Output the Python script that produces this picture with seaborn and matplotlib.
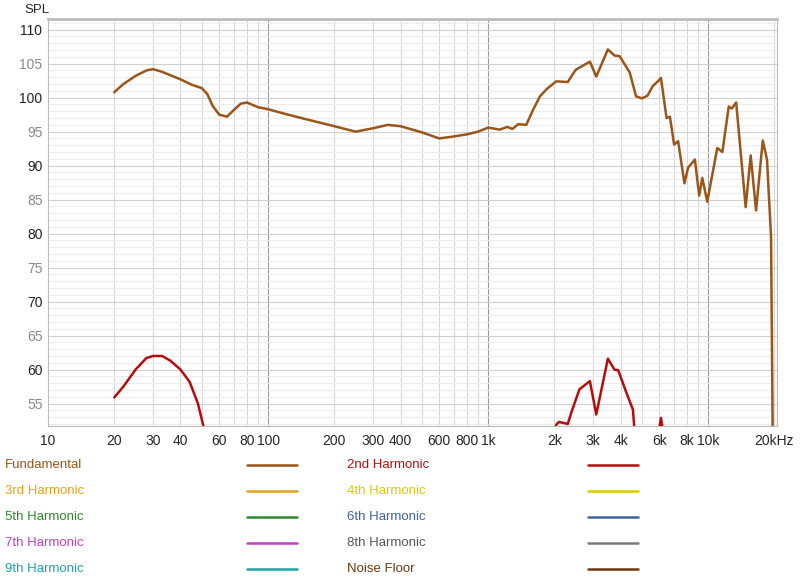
import numpy as np
import pandas as pd
import matplotlib
matplotlib.use("Agg")
import matplotlib.pyplot as plt
from matplotlib.lines import Line2D
from matplotlib.ticker import FixedLocator, NullFormatter
import seaborn as sns

# --- data ---
fund_freq = [20, 22, 25, 28, 30, 33, 36, 40, 45, 50, 53, 56, 60, 65, 70, 75, 80, 90, 100,
             120, 150, 200, 250, 300, 350, 400, 500, 600, 700, 800, 900, 1000, 1130, 1220,
             1290, 1370, 1490, 1600, 1720, 1850, 2040, 2300, 2500, 2900, 3100, 3500, 3750,
             3960, 4400, 4700, 5000, 5300, 5600, 5900, 6100, 6470, 6700, 7000, 7300, 7800,
             8100, 8700, 9100, 9400, 9900, 11000, 11600, 12400, 12800, 13400, 14800, 15600,
             16500, 17700, 18500, 19300, 19700]
fund_spl = [100.8, 102.0, 103.2, 104.0, 104.2, 103.8, 103.3, 102.7, 101.9, 101.4, 100.5, 98.8,
            97.5, 97.2, 98.2, 99.1, 99.3, 98.6, 98.3, 97.6, 96.8, 95.8, 95.0, 95.5, 96.0,
            95.8, 94.9, 94.0, 94.3, 94.6, 95.0, 95.6, 95.3, 95.7, 95.4, 96.1, 96.0, 98.2,
            100.2, 101.3, 102.4, 102.3, 104.1, 105.3, 103.1, 107.1, 106.2, 106.1, 103.7,
            100.2, 99.9, 100.3, 101.7, 102.4, 102.9, 97.0, 97.2, 93.1, 93.6, 87.4, 89.7,
            90.9, 85.6, 88.2, 84.7, 92.6, 92.0, 98.7, 98.4, 99.3, 83.9, 91.5, 83.4, 93.7,
            90.9, 79.6, 45.0]

h2_freq = [20, 22, 25, 28, 30, 33, 36, 40, 44, 48, 51, 53, np.nan,
           1950, 2040, 2100, 2300, 2400, 2600, 2900, 3100, 3500, 3750, 3900, 4250, 4550, 4700,
           np.nan, 5900, 6100, 6300]
h2_spl = [55.9, 57.5, 60.0, 61.7, 62.0, 62.0, 61.3, 60.0, 58.2, 55.0, 51.5, 48.0, np.nan,
          50.0, 51.9, 52.3, 52.0, 53.9, 57.1, 58.3, 53.4, 61.6, 60.0, 59.9, 56.6, 54.1, 48.0,
          np.nan, 50.0, 52.9, 50.0]

legend_names = ["Fundamental", "2nd Harmonic", "3rd Harmonic", "4th Harmonic", "5th Harmonic",
                "6th Harmonic", "7th Harmonic", "8th Harmonic", "9th Harmonic", "Noise Floor"]
legend_colors = ["#9a5518", "#b50d0d", "#e3a21a", "#e0c60a", "#2c8a2c",
                 "#3f62a0", "#c43fc4", "#7a7a7a", "#1fa3a3", "#6b3a12"]
legend_text_colors = ["#9a5518", "#b50d0d", "#e3a21a", "#e0c60a", "#2c8a2c",
                      "#3f62a0", "#c43fc4", "#555555", "#1fa3a3", "#6b3a12"]

x_tick_vals = [10, 20, 30, 40, 60, 80, 100, 200, 300, 400, 600, 800, 1000, 2000, 3000, 4000,
               6000, 8000, 10000, 20000]
x_tick_labels = ["10", "20", "30", "40", "60", "80", "100", "200", "300", "400", "600", "800",
                 "1k", "2k", "3k", "4k", "6k", "8k", "10k", "20kHz"]
y_tick_vals = list(range(55, 111, 5))

sns.set_style("white")
plt.rcParams['font.family'] = ['Liberation Sans', 'DejaVu Sans']

fig = plt.figure(figsize=(8, 5.88), dpi=100)
ax = fig.add_axes([0.06, 0.2755, 0.911, 0.6925])

fund = pd.DataFrame({"freq": fund_freq, "spl": fund_spl})
h2 = pd.DataFrame({"freq": h2_freq, "spl": h2_spl})
sns.lineplot(data=fund, x="freq", y="spl", ax=ax, color=legend_colors[0], lw=1.8, sort=False)
ax.plot(h2["freq"], h2["spl"], color=legend_colors[1], lw=1.8)

ax.set_xscale("log")
ax.set_xlim(10, 20500)
ax.set_ylim(51.7, 111.6)

# grid
minor_x = [m * 10 ** d for d in range(1, 5) for m in range(2, 10) if m * 10 ** d < 20500]
for f in minor_x:
    ax.axvline(f, color="#d6d6d6", lw=0.8, zorder=0)
for f in [100, 1000, 10000]:
    ax.axvline(f, color="#9a9a9a", lw=0.8, zorder=0)
for v in range(52, 112):
    ax.axhline(v, color="#d0d0d0" if v % 5 == 0 else "#ececec", lw=0.8, zorder=0)

ax.xaxis.set_major_locator(FixedLocator(x_tick_vals))
ax.set_xticklabels(x_tick_labels)
ax.xaxis.set_minor_formatter(NullFormatter())
ax.set_yticks(y_tick_vals)
ax.set_yticklabels([str(v) for v in y_tick_vals])
for lab, v in zip(ax.get_yticklabels(), y_tick_vals):
    lab.set_color("#222222" if v % 10 == 0 else "#888888")
ax.tick_params(axis="both", length=0, labelsize=10, pad=4)
ax.tick_params(axis="x", pad=6)
ax.set_xlabel("")
ax.set_ylabel("")
for s in ax.spines.values():
    s.set_color("#bbbbbb")
ax.spines["top"].set_linewidth(2)

fig.text(0.03, 0.983, "SPL", fontsize=9.5, color="#222222", va="center")

# legend table
rows_y = [465, 491, 517, 543, 569]
for i, (name, col, tcol) in enumerate(zip(legend_names, legend_colors, legend_text_colors)):
    r, c = i // 2, i % 2
    yf = 1 - rows_y[r] / 588
    tx = 5 if c == 0 else 347
    lx = (247, 297) if c == 0 else (588, 638)
    fig.text(tx / 800, yf, name, fontsize=9.5, color=tcol, va="center")
    fig.add_artist(Line2D([lx[0] / 800, lx[1] / 800], [yf, yf], color=col, lw=1.8))

fig.savefig("out.png", dpi=100)
